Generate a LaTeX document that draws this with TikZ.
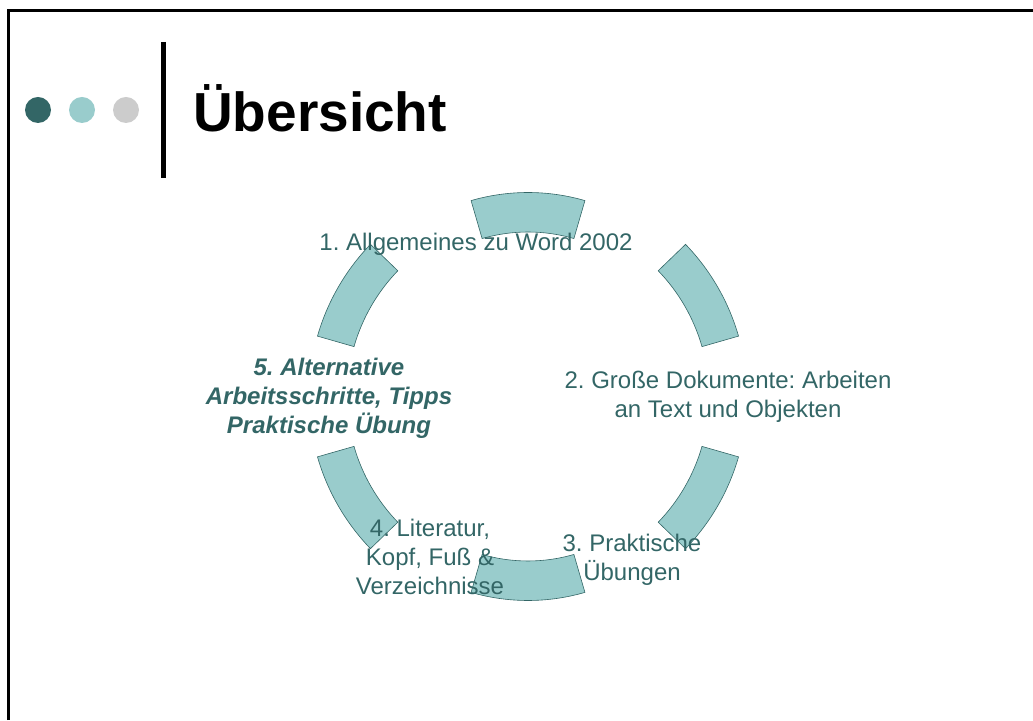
\documentclass[tikz,border=0pt]{standalone}
\usepackage{fontspec}
\setmainfont{Liberation Sans}
\usepackage{xcolor}
\usepackage{tikz}
\definecolor{darkteal}{HTML}{336666}
\definecolor{lightteal}{HTML}{99CCCC}
\definecolor{lightgrey}{HTML}{CCCCCC}
\frenchspacing

\begin{document}
\begin{tikzpicture}[x=1pt, y=1pt,
    segment/.style={fill=lightteal, draw=darkteal, line width=0.6pt},
    item/.style={text=darkteal, align=center, inner sep=0pt,
                 font=\fontsize{24}{29}\selectfont}]
  \useasboundingbox (0,0) rectangle (1033,720);
  % slide frame
  \draw[line width=3pt] (8.5,0) -- (8.5,709) -- (1033,709);
  % header
  \fill[darkteal] (38,610) circle (13);
  \fill[lightteal] (82,610) circle (13);
  \fill[lightgrey] (126,610) circle (13);
  \draw[line width=5pt] (163,678) -- (163,542);
  \node[anchor=base west, inner sep=0pt, font=\fontsize{55}{66}\selectfont\bfseries]
    (title) at (193,588) {Übersicht};
  % cycle
  \begin{scope}[shift={(528,323.5)}]
    \draw[segment] (73.8:164.5) -- (73.8:204) arc[start angle=73.8, end angle=106.2, radius=204]
      -- (106.2:164.5) arc[start angle=106.2, end angle=73.8, radius=164.5] -- cycle;
    \draw[segment] (16:181) -- (16:219) arc[start angle=16, end angle=44, radius=219]
      -- (44:181) arc[start angle=44, end angle=16, radius=181] -- cycle;
    \draw[segment] (-44:181) -- (-44:219) arc[start angle=-44, end angle=-16, radius=219]
      -- (-16:181) arc[start angle=-16, end angle=-44, radius=181] -- cycle;
    \draw[segment] (253.8:164.5) -- (253.8:204) arc[start angle=253.8, end angle=286.2, radius=204]
      -- (286.2:164.5) arc[start angle=286.2, end angle=253.8, radius=164.5] -- cycle;
    \draw[segment] (196:181) -- (196:219) arc[start angle=196, end angle=224, radius=219]
      -- (224:181) arc[start angle=224, end angle=196, radius=181] -- cycle;
    \draw[segment] (136:181) -- (136:219) arc[start angle=136, end angle=164, radius=219]
      -- (164:181) arc[start angle=164, end angle=136, radius=181] -- cycle;
  \end{scope}
  % labels
  \node[item, anchor=base] (general) at (476,469) {1. Allgemeines zu Word 2002};
  \node[item] (documents) at (728,323) {2. Große Dokumente: Arbeiten\\an Text und Objekten};
  \node[item] (practice) at (632,160) {3. Praktische\\Übungen};
  \node[item] (literature) at (430,163) {4. Literatur,\\Kopf, Fuß \&\\Verzeichnisse};
  \node[item, font=\fontsize{24}{29}\selectfont\bfseries\itshape]
    (alternative) at (329,322) {5. Alternative\\Arbeitsschritte, Tipps\\Praktische Übung};
\end{tikzpicture}
\end{document}
